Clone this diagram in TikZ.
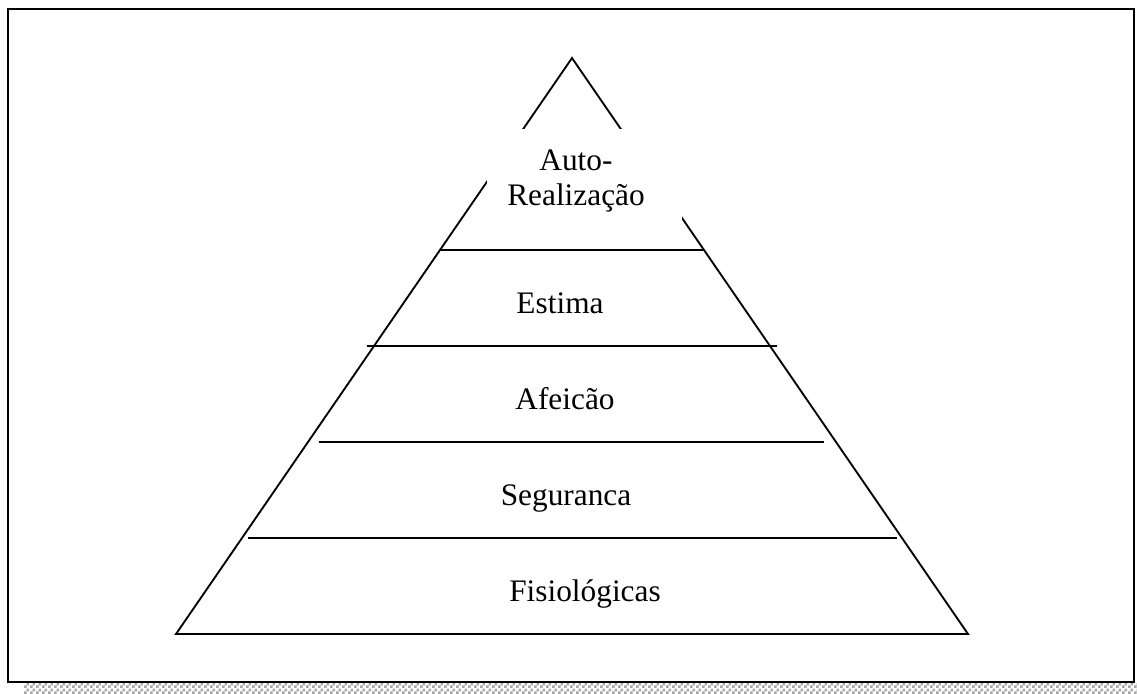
\documentclass[tikz,border=0pt]{standalone}
\usepackage{fontspec}
\setmainfont{Liberation Serif}
\usetikzlibrary{
  positioning,
  patterns
}
\pgfdeclarepatternformonly{finechecker}{\pgfpointorigin}{\pgfqpoint{4.5pt}{4.5pt}}{\pgfqpoint{4.5pt}{4.5pt}}{
  \pgfpathrectangle{\pgfpointorigin}{\pgfqpoint{2.25pt}{2.25pt}}
  \pgfpathrectangle{\pgfqpoint{2.25pt}{2.25pt}}{\pgfqpoint{2.25pt}{2.25pt}}
  \pgfusepath{fill}
}
\tikzset{frame/.style={
  draw, line width=1.6pt
}}
\tikzset{tier/.style={
  draw, line width=1.4pt
}}
\tikzset{tiertext/.style={
  inner sep=0pt,
  anchor=base,
  font=\fontsize{23.5}{26.3}\selectfont
}}

\begin{document}
\begin{tikzpicture}[x=0.75pt,y=-0.75pt]
          \useasboundingbox (0,0) rectangle (1137,693);
          % page frame with its shadow
          \fill [pattern=finechecker, pattern color=gray!70] (24,683) rectangle (1137,693);
          \draw [frame] (8,9) rectangle (1134,682);
          % the pyramid
          \coordinate (apex) at (572,58);
          \coordinate (baseL) at (176,634);
          \coordinate (baseR) at (968,634);
          \draw [tier, line join=miter] (apex) -- (baseL) -- (baseR) -- cycle;
          \fill [white] (487,129) rectangle (682,236);
          % tiers
          \coordinate (t1L) at (441,250); \coordinate (t1R) at (703,250);
          \coordinate (t2L) at (367,346); \coordinate (t2R) at (777,346);
          \coordinate (t3L) at (319,442); \coordinate (t3R) at (824,442);
          \coordinate (t4L) at (248,538); \coordinate (t4R) at (897,538);
          \draw [tier] (t1L) -- (t1R);
          \draw [tier] (t2L) -- (t2R);
          \draw [tier] (t3L) -- (t3R);
          \draw [tier] (t4L) -- (t4R);
          % labels
          \node [tiertext, anchor=center, align=center] (autoreal) at (576,181) {Auto-\\Realização};
          \node [tiertext] (estima) at (560,313) {Estima};
          \node [tiertext] (afeicao) at (565,409) {Afeicão};
          \node [tiertext] (seguranca) at (566,505) {Seguranca};
          \node [tiertext] (fisio) at (585,601) {Fisiológicas};
        \end{tikzpicture}
\end{document}
